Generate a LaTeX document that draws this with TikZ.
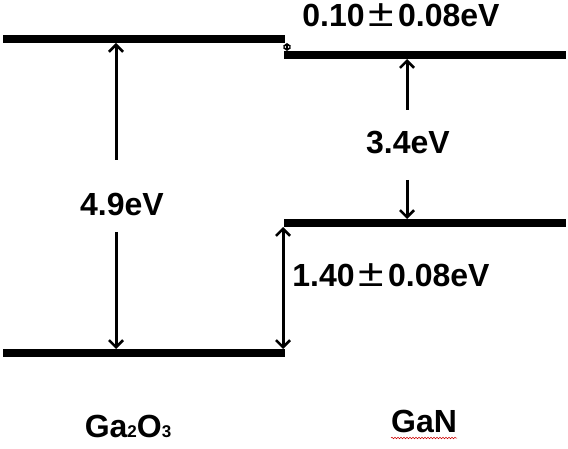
\documentclass[tikz,border=0pt]{standalone}
\usepackage{fontspec}
\setmainfont{Liberation Sans}
\usetikzlibrary{arrows.meta,decorations.pathmorphing}
\newcommand{\pmsign}{\hspace{4pt}{\mdseries\scalebox{1.45}[1.2]{±}}\hspace{4pt}}
\begin{document}
\begin{tikzpicture}[x=1pt,y=-1pt,
  level/.style={line width=8.5pt},
  arr/.style={line width=3pt,-{Straight Barb[length=7pt,width=14pt,line width=2.6pt]}},
  darrow/.style={line width=2pt,{Straight Barb[length=2.5pt,width=7pt,line width=1.6pt]}-{Straight Barb[length=2.5pt,width=7pt,line width=1.6pt]}},
  lbl/.style={font=\fontsize{32}{32}\selectfont\bfseries,inner sep=0pt,anchor=base,text height=23pt}]
\useasboundingbox (0,0) rectangle (568,449);
% levels
\coordinate (gaL1) at (3,39);   \coordinate (gaR1) at (285,39);
\coordinate (gaL2) at (3,353);  \coordinate (gaR2) at (285,353);
\coordinate (gnL1) at (284,55); \coordinate (gnR1) at (566,55);
\coordinate (gnL2) at (284,223);\coordinate (gnR2) at (566,223);
\draw[level] (gaL1) -- (gaR1);
\draw[level] (gaL2) -- (gaR2);
\draw[level] (gnL1) -- (gnR1);
\draw[level] (gnL2) -- (gnR2);
% labels
\node[lbl] (e49) at (122,216) {4.9eV};
\node[lbl] (e34) at (408,154) {3.4eV};
\node[lbl] (ecb) at (401,27) {0.10\pmsign 0.08eV};
\node[lbl] (evb) at (391,287) {1.40\pmsign 0.08eV};
\node[lbl] (ga2o3) at (128,437) {Ga{\fontsize{17}{17}\selectfont 2}O{\fontsize{17}{17}\selectfont 3}};
\node[lbl] (gan) at (424,432) {GaN};
% arrows
\coordinate (a1s) at (116,160); \coordinate (a1e) at (116,43);
\coordinate (a2s) at (116,232); \coordinate (a2e) at (116,349);
\coordinate (b1s) at (407,110); \coordinate (b1e) at (407,59);
\coordinate (b2s) at (407,180); \coordinate (b2e) at (407,219);
\coordinate (c1) at (283,227);  \coordinate (c2) at (283,349);
\coordinate (d1) at (287,43);   \coordinate (d2) at (287,51);
\draw[arr] (a1s) -- (a1e);
\draw[arr] (a2s) -- (a2e);
\draw[arr] (b1s) -- (b1e);
\draw[arr] (b2s) -- (b2e);
\draw[arr,{Straight Barb[length=7pt,width=14pt,line width=2.6pt]}-{Straight Barb[length=7pt,width=14pt,line width=2.6pt]}] (c1) -- (c2);
\draw[darrow] (d1) -- (d2);
% spell-check underline
\coordinate (w1) at (391,438); \coordinate (w2) at (457,438);
\draw[red!80!black,line width=0.5pt,decorate,decoration={snake,amplitude=0.8pt,segment length=3pt}] (w1) -- (w2);
\end{tikzpicture}
\end{document}
